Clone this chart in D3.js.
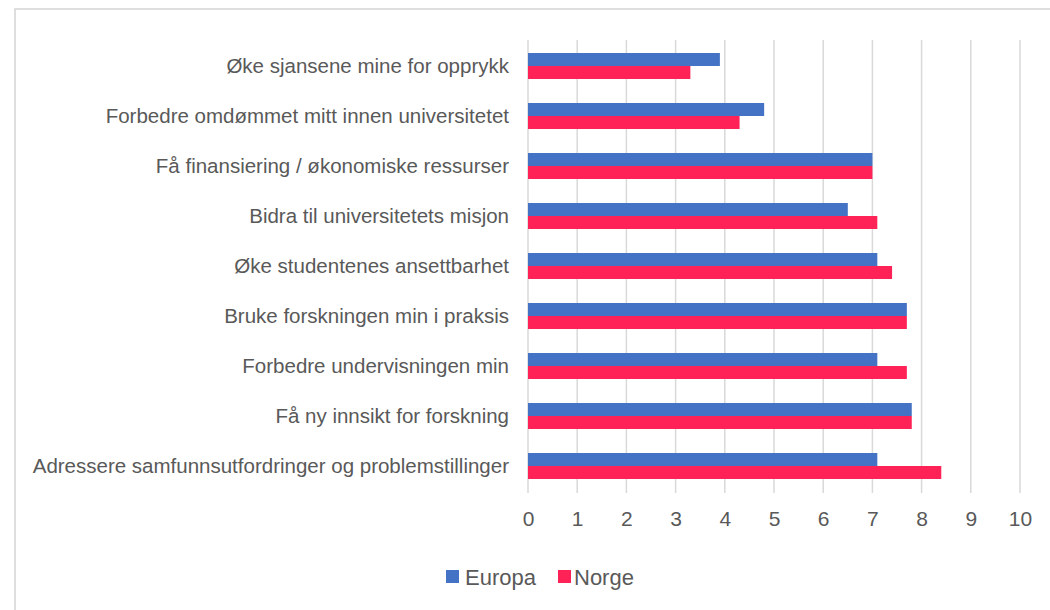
<!DOCTYPE html>
<html>
<head>
<meta charset="utf-8">
<script src="https://cdn.jsdelivr.net/npm/d3@7"></script>
<style>
  html, body { margin: 0; padding: 0; background: #fff; }
  svg { display: block; }
  text { font-family: "Liberation Sans", Arial, sans-serif; fill: #595959; }
</style>
</head>
<body>
<svg id="chart" width="1050" height="610"></svg>
<script>
const categories = [
  "Øke sjansene mine for opprykk",
  "Forbedre omdømmet mitt innen universitetet",
  "Få finansiering / økonomiske ressurser",
  "Bidra til universitetets misjon",
  "Øke studentenes ansettbarhet",
  "Bruke forskningen min i praksis",
  "Forbedre undervisningen min",
  "Få ny innsikt for forskning",
  "Adressere samfunnsutfordringer og problemstillinger"
];
const seriesNames = ["Europa", "Norge"];
const europa = [3.9, 4.8, 7.0, 6.5, 7.1, 7.7, 7.1, 7.8, 7.1];
const norge  = [3.3, 4.3, 7.0, 7.1, 7.4, 7.7, 7.7, 7.8, 8.4];
const xTicks = [0, 1, 2, 3, 4, 5, 6, 7, 8, 9, 10];
const colors = ["#4472C4", "#FF2257"];

const svg = d3.select("#chart");

// frame
svg.append("rect")
  .attr("x", 15).attr("y", 9).attr("width", 1100).attr("height", 700)
  .attr("fill", "none").attr("stroke", "#d4d4d4").attr("stroke-width", 1.5);

const x = d3.scaleLinear().domain([0, 10]).range([528, 1020]);
const y = d3.scaleBand().domain(categories).range([41, 491]).paddingInner(0).paddingOuter(0);
const inner = d3.scaleBand().domain(seriesNames).range([0, 26]);
const bandPad = (y.bandwidth() - 26) / 2;

// gridlines
svg.append("g").selectAll("line").data(xTicks).join("line")
  .attr("x1", d => x(d)).attr("x2", d => x(d))
  .attr("y1", 40).attr("y2", 493)
  .attr("stroke", "#d9d9d9").attr("stroke-width", 1.5);

// bars
const data = categories.map((c, i) => ({ cat: c, vals: [europa[i], norge[i]] }));
const groups = svg.append("g").selectAll("g").data(data).join("g")
  .attr("transform", d => `translate(0,${y(d.cat) + bandPad})`);
groups.selectAll("rect").data(d => d.vals.map((v, j) => ({ name: seriesNames[j], v, j })))
  .join("rect")
  .attr("x", x(0))
  .attr("y", d => inner(d.name))
  .attr("height", inner.bandwidth())
  .attr("width", d => x(d.v) - x(0))
  .attr("fill", d => colors[d.j]);

// category labels
svg.append("g").selectAll("text").data(categories).join("text")
  .attr("x", 509)
  .attr("y", d => y(d) + y.bandwidth() / 2 - 1)
  .attr("text-anchor", "end")
  .attr("dominant-baseline", "central")
  .style("font-size", "20.5px")
  .text(d => d);

// x axis tick labels
const xAxis = d3.axisBottom(x).tickValues(xTicks).tickSize(0).tickPadding(0).tickFormat(d3.format("d"));
const ax = svg.append("g").attr("transform", "translate(0,511)").call(xAxis);
ax.select(".domain").remove();
ax.selectAll("text").style("font-size", "21px").attr("fill", "#595959")
  .style("font-family", "'Liberation Sans', Arial, sans-serif");

// legend
const legend = svg.append("g");
const legItems = [{ name: "Europa", x: 446, tx: 465 }, { name: "Norge", x: 558, tx: 574 }];
legItems.forEach((it, i) => {
  legend.append("rect").attr("x", it.x).attr("y", 570).attr("width", 13).attr("height", 13).attr("fill", colors[i]);
  legend.append("text").attr("x", it.tx).attr("y", 577)
    .attr("dominant-baseline", "central").style("font-size", "22px").text(it.name);
});
</script>
</body>
</html>
